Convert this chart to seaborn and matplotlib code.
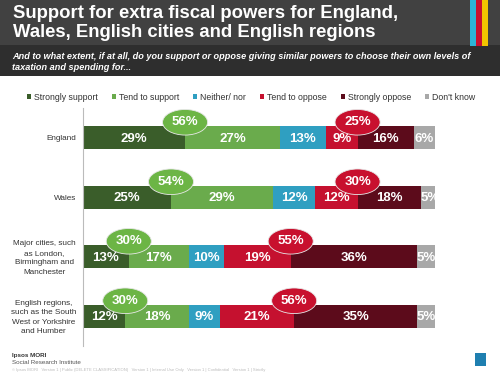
import numpy as np
import pandas as pd
import matplotlib.pyplot as plt
import seaborn as sns
from matplotlib.patches import Ellipse, Rectangle, Patch
from matplotlib.transforms import blended_transform_factory

categories = ["England", "Wales",
              "Major cities, such\nas London,\nBirmingham and\nManchester",
              "English regions,\nsuch as the South\nWest or Yorkshire\nand Humber"]
responses = ["Strongly support", "Tend to support", "Neither/ nor",
             "Tend to oppose", "Strongly oppose", "Don't know"]
strongly_support = [29, 25, 13, 12]
tend_support = [27, 29, 17, 18]
neither = [13, 12, 10, 9]
tend_oppose = [9, 12, 19, 21]
strongly_oppose = [16, 18, 36, 35]
dont_know = [6, 5, 5, 5]
total_support = [56, 54, 30, 30]
total_oppose = [25, 30, 55, 56]

colors = ["#3a5d2a", "#6aab4c", "#2f9fc1", "#c5112f", "#5c0b1b", "#a8a8a8"]

df = pd.DataFrame({"category": categories,
                   responses[0]: strongly_support, responses[1]: tend_support,
                   responses[2]: neither, responses[3]: tend_oppose,
                   responses[4]: strongly_oppose, responses[5]: dont_know})
cum = df[responses].cumsum(axis=1)

sns.set_style("white")
plt.rcParams["font.family"] = ["Liberation Sans", "DejaVu Sans"]

fig = plt.figure(figsize=(5, 3.75), dpi=100)
fig.patch.set_facecolor("white")

# header bands
fig.add_artist(Rectangle((0, 1 - 45 / 375), 1, 45 / 375, transform=fig.transFigure,
                         facecolor="#414141", edgecolor="none"))
fig.add_artist(Rectangle((0, 1 - 76 / 375), 1, 31 / 375, transform=fig.transFigure,
                         facecolor="#2e2e2e", edgecolor="none"))
for x0, c in [(470, "#2bb3d6"), (476, "#c8102e"), (482, "#f2c500")]:
    fig.add_artist(Rectangle((x0 / 500, 1 - 46 / 375), 6 / 500, 46 / 375,
                             transform=fig.transFigure, facecolor=c, edgecolor="none"))
fig.text(13 / 500, 1 - 23 / 375, "Support for extra fiscal powers for England,\nWales, English cities and English regions",
         color="white", fontsize=13.3, fontweight="bold", va="center", ha="left", linespacing=1.2)
fig.text(12 / 500, 1 - 62 / 375, "And to what extent, if at all, do you support or oppose giving similar powers to choose their own levels of\ntaxation and spending for...",
         color="white", fontsize=6.6, fontweight="bold", style="italic", va="center", ha="left", linespacing=1.35)

ax = fig.add_axes([83 / 500, 1 - 346 / 375, 352 / 500, 238 / 375])
for i in range(len(responses) - 1, -1, -1):
    sns.barplot(x=cum[responses[i]], y=df["category"], color=colors[i], orient="h",
                width=0.39, saturation=1, ax=ax, linewidth=0)

ax.set_xlim(0, 100)
ax.set_ylim(3.5, -0.5)
ax.set_xlabel("")
ax.set_ylabel("")
ax.set_xticks([])
ax.set_yticklabels([])
ax.tick_params(axis="y", length=0)
ax.set_yticks([0.5, 1.5, 2.5], minor=True)
ax.tick_params(axis="y", which="minor", length=3, color="#bbbbbb", direction="out")
for s in ["top", "right", "bottom"]:
    ax.spines[s].set_visible(False)
ax.spines["left"].set_color("#bbbbbb")
ax.spines["left"].set_linewidth(0.8)

trans = blended_transform_factory(fig.transFigure, ax.transData)
for j, cat in enumerate(categories):
    ax.text(76 / 500, j + 0.02, cat, transform=trans, ha="right", va="center",
            multialignment="center", fontsize=5.9, color="#333333", linespacing=1.5)

for r, resp in enumerate(responses):
    for j in range(len(categories)):
        v = df[resp][j]
        center = cum[resp][j] - v / 2
        ax.text(center, j + 0.02, f"{v}%", color="white", fontsize=9.5, fontweight="bold",
                ha="center", va="center")

for j in range(len(categories)):
    for xpos, val, fc in [(cum[responses[0]][j], total_support[j], "#6cb545"),
                          (cum[responses[3]][j], total_oppose[j], "#c8102e")]:
        ax.add_patch(Ellipse((xpos, j - 0.26), 12.8, 0.43, facecolor=fc,
                             edgecolor="#e8e8e8", linewidth=0.6, zorder=5, clip_on=False))
        ax.text(xpos, j - 0.26, f"{val}%", color="white", fontsize=9.5, fontweight="bold",
                ha="center", va="center", zorder=6)

handles = [Patch(facecolor=c, edgecolor="none") for c in colors]
fig.legend(handles, responses, loc="center", bbox_to_anchor=(0.502, 1 - 97 / 375), ncol=6,
           frameon=False, fontsize=6.3, handlelength=0.5, handleheight=0.5,
           handletextpad=0.3, columnspacing=1.6, labelcolor="#333333")

# footer
fig.text(12 / 500, 1 - 355 / 375, "Ipsos MORI", fontsize=4.5, fontweight="bold", color="#333333", va="center")
fig.text(12 / 500, 1 - 362 / 375, "Social Research Institute", fontsize=4.5, color="#555555", va="center")
fig.text(12 / 500, 1 - 370 / 375, "© Ipsos MORI   Version 1 | Public (DELETE CLASSIFICATION)   Version 1 | Internal Use Only   Version 1 | Confidential   Version 1 | Strictly",
         fontsize=3, color="#bbbbbb", va="center")
fig.add_artist(Rectangle((475 / 500, 1 - 366 / 375), 11 / 500, 13 / 375, transform=fig.transFigure,
                         facecolor="#1f7fb0", edgecolor="none"))

fig.savefig("out.png", dpi=100)
